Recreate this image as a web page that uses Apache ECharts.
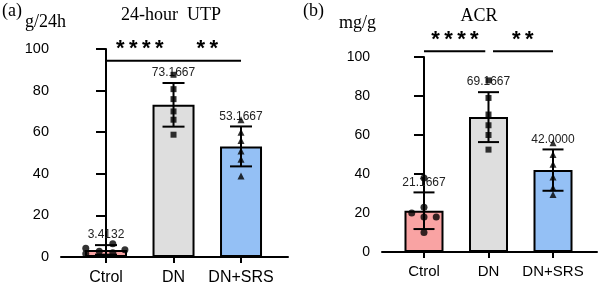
<!DOCTYPE html>
<html><head><meta charset="utf-8">
<script src="https://cdn.jsdelivr.net/npm/echarts@6/dist/echarts.min.js"></script>
<style>html,body{margin:0;padding:0;background:#fff}#c{width:600px;height:286px}</style>
</head><body><div id="c"></div>
<script>
// ---------- data ----------
const categories = ['Ctrol', 'DN', 'DN+SRS'];
const barColors = ['#F9A3A3', '#DEDEDE', '#94C0F5'];

// (a) 24-hour UTP, g/24h
const utpMeans = [3.4132, 73.1667, 53.1667];
const utpSD = [2.3, 10.5, 9.6];
const utpCtrol = [4.2, 1.6, 2.8, 6.4, 2.0, 3.5];
const utpCtrolJitter = [-0.30, -0.30, -0.10, 0.10, 0.10, 0.28];
const utpDN = [87.6, 80.7, 75.9, 70.0, 66.0, 58.8];
const utpSRS = [66, 60, 56, 51, 47, 39];

// (b) ACR, mg/g
const acrMeans = [21.1667, 69.1667, 42.0];
const acrSD = [9.4, 12.8, 10.6];
const acrCtrol = [38, 23, 20, 18, 18, 10];
const acrCtrolJitter = [0, 0, -0.19, 0, 0.19, 0];
const acrDN = [88, 79, 70.5, 65, 60, 52.5];
const acrSRS = [56, 50, 45, 38.5, 33, 29.5];

const yTicks = [0, 20, 40, 60, 80, 100];

// significance annotations (category units / value units)
const utpSigLines = [[0, 2, 94.3]];
const utpSigStars = [[0.5, 100.0, '****'], [1.5, 100.0, '**']];
const acrSigLines = [[0, 0.95, 102.9], [1.07, 2, 102.9]];
const acrSigStars = [[0.48, 108.6, '****'], [1.53, 108.6, '**']];

// ---------- chart ----------
const SANS = '"Liberation Sans", Arial, sans-serif';
const SERIF = '"Liberation Serif", "Times New Roman", serif';
const chart = echarts.init(document.getElementById('c'), null, {renderer: 'canvas'});

function xAxisCfg(gi, min, max, fs, margin) {
  return {
    type: 'value', gridIndex: gi, min: min, max: max,
    splitLine: {show: false},
    axisLine: {show: true, lineStyle: {color: '#000', width: 2}},
    axisTick: {show: true, customValues: [0, 1, 2], length: 6, lineStyle: {color: '#000', width: 2}},
    axisLabel: {customValues: [0, 1, 2], formatter: v => categories[Math.round(v)],
      color: '#000', fontSize: fs, fontFamily: SANS, margin: margin}
  };
}
function yAxisCfg(gi, fs) {
  return {
    type: 'value', gridIndex: gi, min: yTicks[0], max: yTicks[yTicks.length - 1],
    interval: yTicks[1] - yTicks[0],
    splitLine: {show: false},
    axisLine: {show: true, lineStyle: {color: '#000', width: 2}},
    axisTick: {show: true, length: 10, lineStyle: {color: '#000', width: 2}},
    axisLabel: {color: '#000', fontSize: fs, fontFamily: SANS, margin: 12}
  };
}
function barSeries(gi, means, bw) {
  return {
    type: 'bar', xAxisIndex: gi, yAxisIndex: gi, barWidth: bw, z: 2,
    data: means.map((m, i) => ({value: [i, m], itemStyle: {color: barColors[i]}})),
    itemStyle: {borderColor: '#000', borderWidth: 2}
  };
}
function errSeries(gi, means, sds, capHalf) {
  return {
    type: 'custom', xAxisIndex: gi, yAxisIndex: gi, z: 5,
    data: means.map((m, i) => [i, m, sds[i]]),
    renderItem(params, api) {
      const x = api.value(0), m = api.value(1), s = api.value(2);
      const top = api.coord([x, m + s]), bot = api.coord([x, m - s]);
      const st = {stroke: '#000', lineWidth: 2};
      return {type: 'group', children: [
        {type: 'line', shape: {x1: top[0], y1: top[1], x2: bot[0], y2: bot[1]}, style: st},
        {type: 'line', shape: {x1: top[0] - capHalf, y1: top[1], x2: top[0] + capHalf, y2: top[1]}, style: st},
        {type: 'line', shape: {x1: bot[0] - capHalf, y1: bot[1], x2: bot[0] + capHalf, y2: bot[1]}, style: st},
        {type: 'text', x: top[0], y: top[1] - 10, style: {text: m.toFixed(4), fill: '#222',
          font: '12px ' + SANS, align: 'center', verticalAlign: 'middle'}}
      ]};
    }
  };
}
function pointSeries(gi, idx, vals, jitter, symbol, size) {
  return {
    type: 'scatter', xAxisIndex: gi, yAxisIndex: gi, z: 10, symbol: symbol, symbolSize: size,
    itemStyle: {color: '#000'},
    data: vals.map((v, k) => [idx + (jitter ? jitter[k] : 0), v])
  };
}
function sigSeries(gi, lines, stars, starFs) {
  const items = lines.map(l => ['line', l[0], l[1], l[2], '']).concat(stars.map(s => ['star', s[0], 0, s[1], s[2]]));
  return {
    type: 'custom', xAxisIndex: gi, yAxisIndex: gi, z: 6, clip: false, silent: true,
    data: items.map((it, i) => [i]),
    renderItem(params, api) {
      const it = items[params.dataIndex];
      if (it[0] === 'line') {
        const a = api.coord([it[1], it[3]]), b = api.coord([it[2], it[3]]);
        return {type: 'line', shape: {x1: a[0], y1: a[1], x2: b[0], y2: b[1]}, style: {stroke: '#000', lineWidth: 2}};
      }
      const p = api.coord([it[1], it[3]]);
      return {type: 'text', x: p[0], y: p[1], style: {text: it[4].split('').join('\u2009'), fill: '#000',
        font: 'bold ' + starFs + 'px ' + SANS, align: 'center', verticalAlign: 'middle'}};
    }
  };
}

const option = {
  animation: false,
  backgroundColor: '#fff',
  grid: [
    {left: 61, top: 49, width: 227, bottom: 28, containLabel: false},
    {left: 382, top: 57, width: 215, bottom: 34, containLabel: false}
  ],
  xAxis: [xAxisCfg(0, -0.667, 2.696, 16, 13), xAxisCfg(1, -0.651, 2.682, 15, 12)],
  yAxis: [yAxisCfg(0, 14.5), yAxisCfg(1, 14)],
  series: [
    barSeries(0, utpMeans, 42),
    errSeries(0, utpMeans, utpSD, 11),
    pointSeries(0, 0, utpCtrol, utpCtrolJitter, 'circle', 7),
    pointSeries(0, 1, utpDN, null, 'rect', 6),
    pointSeries(0, 2, utpSRS, null, 'triangle', 7),
    sigSeries(0, utpSigLines, utpSigStars, 22),
    barSeries(1, acrMeans, 39),
    errSeries(1, acrMeans, acrSD, 10.5),
    pointSeries(1, 0, acrCtrol, acrCtrolJitter, 'circle', 7),
    pointSeries(1, 1, acrDN, null, 'rect', 6),
    pointSeries(1, 2, acrSRS, null, 'triangle', 7),
    sigSeries(1, acrSigLines, acrSigStars, 22)
  ],
  graphic: [
    {type: 'text', left: 2, top: 2, style: {text: '(a)', font: '18px ' + SERIF, fill: '#000'}},
    {type: 'text', left: 25, top: 13, style: {text: 'g/24h', font: '18px ' + SERIF, fill: '#000'}},
    {type: 'text', x: 171, y: 15, style: {text: '24-hour  UTP', font: '18px ' + SERIF, fill: '#000', align: 'center', verticalAlign: 'middle'}},
    {type: 'text', left: 303, top: 2, style: {text: '(b)', font: '18px ' + SERIF, fill: '#000'}},
    {type: 'text', left: 339, top: 14, style: {text: 'mg/g', font: '18px ' + SERIF, fill: '#000'}},
    {type: 'text', x: 479, y: 16, style: {text: 'ACR', font: '18px ' + SERIF, fill: '#000', align: 'center', verticalAlign: 'middle'}}
  ]
};
chart.setOption(option);
</script>
</body></html>
